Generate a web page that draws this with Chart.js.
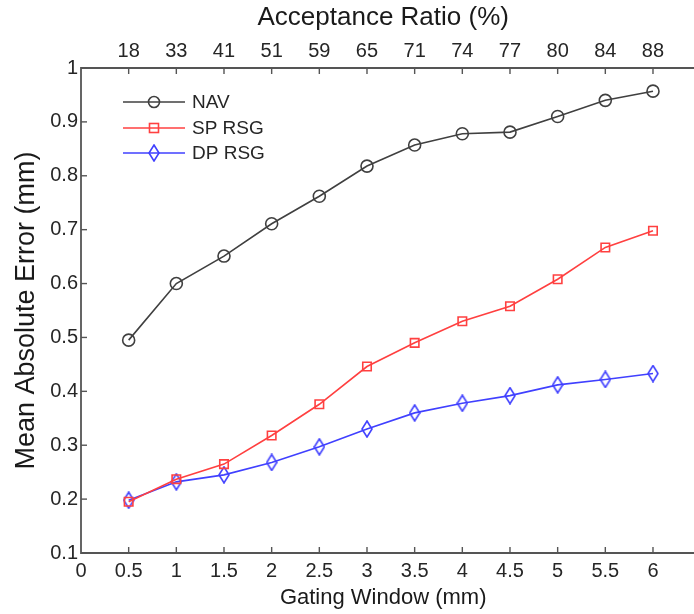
<!DOCTYPE html>
<html><head><meta charset="utf-8">
<script src="https://cdn.jsdelivr.net/npm/chart.js@4/dist/chart.umd.min.js"></script>
<style>html,body{margin:0;padding:0;background:#fff;overflow:hidden;}#wrap{width:694px;height:614px;}</style>
</head><body><div id="wrap"><canvas id="c" width="694" height="614"></canvas></div>
<script>
const gatingWindow = [0.5, 1, 1.5, 2, 2.5, 3, 3.5, 4, 4.5, 5, 5.5, 6];
const acceptanceRatio = [18, 33, 41, 51, 59, 65, 71, 74, 77, 80, 84, 88];
const navValues = [0.495, 0.600, 0.651, 0.711, 0.762, 0.818, 0.857, 0.878, 0.881, 0.910, 0.940, 0.957];
const spRsgValues = [0.195, 0.237, 0.265, 0.318, 0.376, 0.446, 0.490, 0.530, 0.558, 0.608, 0.667, 0.698];
const dpRsgValues = [0.198, 0.232, 0.245, 0.268, 0.297, 0.330, 0.360, 0.378, 0.392, 0.412, 0.422, 0.433];
const seriesNames = ['NAV', 'SP RSG', 'DP RSG'];
const xTickValues = [0].concat(gatingWindow);

const FONT = "'Liberation Sans', Arial, sans-serif";
const TXT = '#262626';

function diamond(color){
  const c = document.createElement('canvas'); c.width = 12; c.height = 18;
  const g = c.getContext('2d');
  g.strokeStyle = color; g.lineWidth = 1.6;
  g.beginPath(); g.moveTo(6,1); g.lineTo(11,9); g.lineTo(6,17); g.lineTo(1,9); g.closePath(); g.stroke();
  return c;
}
const navColor = '#404040', spColor = '#ff4040', dpColor = '#4040ff';
const dpMarker = diamond(dpColor);

function pts(vals){ return gatingWindow.map((x,i)=>({x:x, y:vals[i]})); }
const setXTicks = (axis)=>{ axis.ticks = xTickValues.map(v=>({value:v})); };

const framePlugin = {
  id:'frame',
  afterDraw(chart){
    const {ctx, chartArea:a, scales} = chart;
    const W = chart.width;
    ctx.save();
    ctx.strokeStyle = '#555'; ctx.lineWidth = 1.8;
    ctx.beginPath();
    ctx.moveTo(W, a.top); ctx.lineTo(a.left, a.top); ctx.lineTo(a.left, a.bottom); ctx.lineTo(W, a.bottom);
    ctx.stroke();
    ctx.lineWidth = 1.4;
    const tl = 6;
    scales.x.ticks.forEach(t=>{
      const px = scales.x.getPixelForValue(t.value);
      if (px <= a.left+1) return;
      ctx.beginPath(); ctx.moveTo(px, a.bottom); ctx.lineTo(px, a.bottom-tl);
      ctx.moveTo(px, a.top); ctx.lineTo(px, a.top+tl); ctx.stroke();
    });
    scales.y.ticks.forEach(t=>{
      const py = scales.y.getPixelForValue(t.value);
      ctx.beginPath(); ctx.moveTo(a.left, py); ctx.lineTo(a.left+tl, py); ctx.stroke();
    });
    // legend
    const ds = chart.data.datasets;
    const x0 = a.left + 42, x1 = a.left + 104, yy = [a.top+34, a.top+60, a.top+85];
    ctx.font = '19px ' + FONT; ctx.textBaseline = 'middle';
    ds.forEach((d,i)=>{
      ctx.strokeStyle = d.borderColor; ctx.lineWidth = 1.6;
      ctx.beginPath(); ctx.moveTo(x0, yy[i]); ctx.lineTo(x1, yy[i]); ctx.stroke();
      const mx = (x0+x1)/2;
      if (i===0){ ctx.beginPath(); ctx.arc(mx, yy[i], 5.5, 0, Math.PI*2); ctx.stroke(); }
      else if (i===1){ ctx.strokeRect(mx-4.5, yy[i]-4.5, 9, 9); }
      else { ctx.drawImage(dpMarker, mx-6, yy[i]-9); }
      ctx.fillStyle = TXT; ctx.fillText(d.label, x1+7, yy[i]+1);
    });
    ctx.restore();
  }
};

new Chart(document.getElementById('c'), {
  type:'line',
  data:{ datasets:[
    {label:seriesNames[0], data:pts(navValues), borderColor:navColor, backgroundColor:'transparent', borderWidth:1.6,
      pointStyle:'circle', pointRadius:6, pointBorderWidth:1.6, pointBorderColor:navColor, pointBackgroundColor:'transparent', xAxisID:'x', yAxisID:'y'},
    {label:seriesNames[1], data:pts(spRsgValues), borderColor:spColor, backgroundColor:'transparent', borderWidth:1.6,
      pointStyle:'rect', pointRadius:6, pointBorderWidth:1.6, pointBorderColor:spColor, pointBackgroundColor:'transparent', xAxisID:'x', yAxisID:'y'},
    {label:seriesNames[2], data:pts(dpRsgValues), borderColor:dpColor, backgroundColor:'transparent', borderWidth:1.6,
      pointStyle:dpMarker, pointRadius:7, xAxisID:'x', yAxisID:'y'}
  ]},
  options:{
    responsive:false, animation:false, devicePixelRatio:1,
    layout:{padding:{left:0, right:0, top:0, bottom:0}},
    plugins:{legend:{display:false}, tooltip:{enabled:false}},
    scales:{
      x:{type:'linear', position:'bottom', min:0, max:6.34,
        afterBuildTicks:setXTicks,
        afterFit:(s)=>{s.height = 61; s.paddingRight = 0; s.paddingLeft = 0;},
        ticks:{autoSkip:false, maxRotation:0, padding:-2, color:TXT, font:{family:FONT, size:20},
          callback:(v)=>String(Math.round(v*10)/10)},
        grid:{display:false}, border:{display:false},
        title:{display:true, text:'Gating Window (mm)', color:'#1a1a1a', font:{family:FONT, size:22}, padding:{top:0, bottom:3}}},
      x2:{type:'linear', position:'top', min:0, max:6.34,
        afterBuildTicks:setXTicks,
        afterFit:(s)=>{s.height = 68; s.paddingRight = 0; s.paddingLeft = 0;},
        ticks:{autoSkip:false, maxRotation:0, padding:-3, color:TXT, font:{family:FONT, size:20},
          callback:(v)=>{ const i = gatingWindow.findIndex(g=>Math.abs(g-v)<1e-9); return i>=0 ? String(acceptanceRatio[i]) : ''; }},
        grid:{display:false}, border:{display:false},
        title:{display:true, text:'Acceptance Ratio (%)', color:'#1a1a1a', font:{family:FONT, size:26}, padding:{top:2, bottom:0}}},
      y:{type:'linear', min:0.1, max:1,
        afterFit:(s)=>{s.width = 81;},
        ticks:{stepSize:0.1, padding:-5, color:TXT, font:{family:FONT, size:20},
          callback:(v)=>String(Math.round(v*10)/10)},
        grid:{display:false}, border:{display:false},
        title:{display:true, text:'Mean Absolute Error (mm)', color:'#1a1a1a', font:{family:FONT, size:27}, padding:{top:10, bottom:0}}}
    }
  },
  plugins:[framePlugin]
});
</script></body></html>
